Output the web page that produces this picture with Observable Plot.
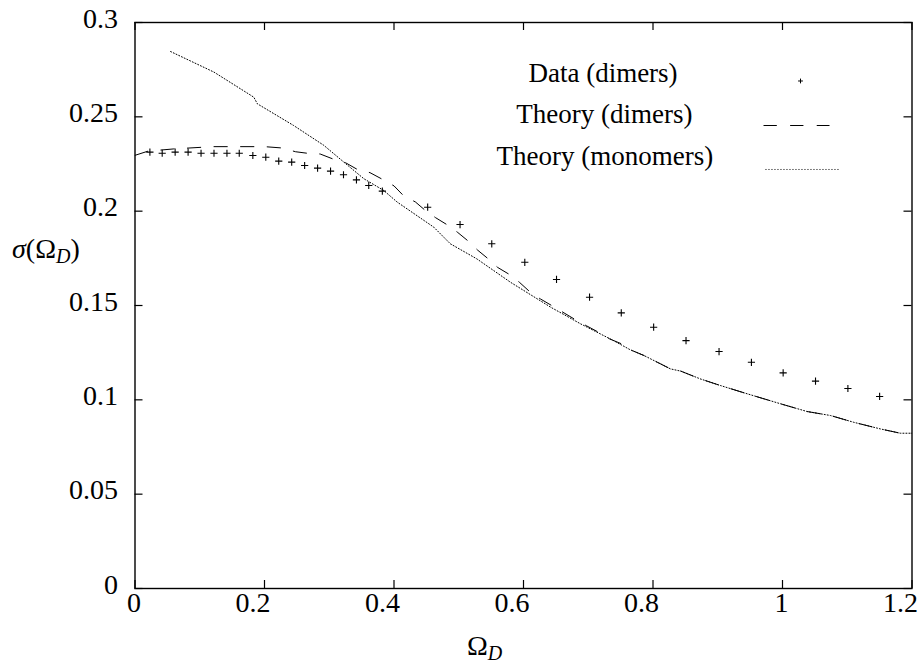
<!DOCTYPE html>
<html><head><meta charset="utf-8">
<script src="https://cdn.jsdelivr.net/npm/d3@7"></script>
<script src="https://cdn.jsdelivr.net/npm/@observablehq/plot@0.6"></script>
<style>
body{margin:0;background:#fff}
#chart{width:921px;height:666px}
</style>
</head><body><div id="chart"></div>
<script>
// Data (dimers) – measured points
const dataX = [0.023, 0.042, 0.062, 0.082, 0.102, 0.122, 0.142, 0.161, 0.182, 0.202, 0.222, 0.242, 0.262, 0.282, 0.302, 0.322, 0.342, 0.361, 0.382,
  0.452, 0.502, 0.551, 0.602, 0.651, 0.702, 0.751, 0.801, 0.851, 0.902, 0.952, 1.001, 1.051, 1.101, 1.150];
const dataY = [0.2313, 0.2307, 0.2313, 0.2313, 0.2307, 0.2307, 0.2307, 0.2307, 0.2295, 0.2286, 0.2265, 0.2260, 0.2242, 0.2228, 0.2212, 0.2193, 0.2166, 0.2136, 0.2106,
  0.2021, 0.1929, 0.1827, 0.1729, 0.1638, 0.1544, 0.1461, 0.1385, 0.1314, 0.1256, 0.1199, 0.1143, 0.1099, 0.1060, 0.1018];

// Theory (dimers)
const dimerX = [0, 0.02, 0.06, 0.12, 0.2, 0.227, 0.248, 0.266, 0.286, 0.307, 0.325, 0.343, 0.363, 0.382, 0.40, 0.415, 0.433, 0.449, 0.464, 0.482, 0.4985, 0.5155, 0.529, 0.546, 0.56, 0.579, 0.594, 0.611, 0.626, 0.644, 0.661, 0.68, 0.697, 0.716, 0.733, 0.752, 0.768, 0.786, 0.827, 0.843, 0.873, 0.904, 0.9455, 0.997, 1.038, 1.074, 1.11, 1.151, 1.182, 1.2];
const dimerY = [0.2296, 0.2318, 0.2330, 0.2342, 0.2342, 0.2335, 0.2315, 0.2307, 0.2303, 0.2275, 0.2257, 0.2222, 0.2204, 0.2169, 0.2134, 0.2081, 0.2049, 0.2002, 0.1966, 0.1928, 0.1887, 0.1839, 0.1794, 0.1746, 0.1702, 0.1663, 0.1622, 0.1569, 0.1535, 0.1499, 0.1464, 0.1425, 0.1393, 0.1358, 0.1323, 0.1296, 0.1261, 0.1235, 0.1164, 0.1152, 0.1111, 0.1076, 0.1032, 0.0979, 0.0938, 0.0917, 0.0881, 0.0846, 0.0823, 0.0823];

// Theory (monomers)
const monoX = [0.055, 0.122, 0.1835, 0.189, 0.245, 0.2916, 0.3225, 0.3534, 0.384, 0.405, 0.4615, 0.487, 0.528, 0.58, 0.642, 0.688, 0.739, 0.765, 0.786, 0.827, 0.843, 0.873, 0.904, 0.9455, 0.997, 1.038, 1.074, 1.11, 1.151, 1.182, 1.2];
const monoY = [0.2846, 0.2737, 0.2604, 0.2569, 0.2454, 0.2349, 0.2260, 0.2172, 0.2110, 0.2048, 0.1915, 0.1827, 0.1747, 0.1623, 0.1491, 0.1403, 0.1314, 0.1265, 0.1235, 0.1164, 0.1152, 0.1111, 0.1076, 0.1032, 0.0979, 0.0938, 0.0917, 0.0881, 0.0846, 0.0823, 0.0823];

// Ticks
const xTicks = [0, 0.2, 0.4, 0.6, 0.8, 1, 1.2];
const xTickLabels = ["0", "0.2", "0.4", "0.6", "0.8", "1", "1.2"];
const yTicks = [0, 0.05, 0.1, 0.15, 0.2, 0.25, 0.3];
const yTickLabels = ["0", "0.05", "0.1", "0.15", "0.2", "0.25", "0.3"];

// Legend (positions in data units inside the frame)
const legendLabels = ["Data (dimers)", "Theory (dimers)", "Theory (monomers)"];
const legendTextX = [0.838, 0.861, 0.893];
const legendTextY = [0.2687, 0.2465, 0.2247];
const legendSampleX1 = [0.9707, 0.9737];
const legendSampleX2 = [1.0726, 1.087];
const legendSampleY = [0.2454, 0.2221];
const legendPlusX = [1.0278], legendPlusY = [0.2690];

const W = 921, H = 666, ML = 134.5, MR = 9.5, MT = 22, MB = 78;
const PW = W - ML - MR, PH = H - MT - MB, TL = 8;
const FONT = "Liberation Serif";

const plusSymbol = {
  draw(context, size) {
    const r = Math.sqrt(size / Math.PI);
    context.moveTo(-r, 0); context.lineTo(r, 0);
    context.moveTo(0, -r); context.lineTo(0, r);
  }
};

const idx = a => a.map((_, i) => i);

const chart = Plot.plot({
  width: W, height: H,
  marginLeft: ML, marginRight: MR, marginTop: MT, marginBottom: MB,
  x: {domain: [0, 1.2], axis: null},
  y: {domain: [0, 0.3], axis: null},
  style: {fontFamily: FONT, fontSize: "28px", color: "black", background: "white"},
  marks: [
    // inward ticks on all four sides
    Plot.tickX(xTicks, {x: d => d, insetTop: PH - TL, stroke: "black", strokeWidth: 1.2}),
    Plot.tickX(xTicks, {x: d => d, insetBottom: PH - TL, stroke: "black", strokeWidth: 1.2}),
    Plot.tickY(yTicks, {y: d => d, insetRight: PW - TL, stroke: "black", strokeWidth: 1.2}),
    Plot.tickY(yTicks, {y: d => d, insetLeft: PW - TL, stroke: "black", strokeWidth: 1.2}),
    // tick labels
    Plot.text(idx(xTicks), {x: i => xTicks[i], text: i => xTickLabels[i], frameAnchor: "bottom", lineAnchor: "bottom", textAnchor: "end", dx: 6, dy: 23, fill: "black", fontSize: 28, fontFamily: FONT}),
    Plot.text(idx(yTicks), {y: i => yTicks[i], text: i => yTickLabels[i], frameAnchor: "left", lineAnchor: "bottom", textAnchor: "end", dx: -17, dy: 5, fill: "black", fontSize: 28, fontFamily: FONT}),
    // series
    Plot.line(idx(monoX), {x: i => monoX[i], y: i => monoY[i], stroke: "black", strokeWidth: 1, strokeDasharray: "1,2", clip: true}),
    Plot.line(idx(dimerX), {x: i => dimerX[i], y: i => dimerY[i], stroke: "black", strokeWidth: 1, strokeDasharray: "13.3,13.3", clip: true}),
    Plot.dot(idx(dataX), {x: i => dataX[i], y: i => dataY[i], symbol: plusSymbol, r: 3.6, stroke: "black", fill: "none", strokeWidth: 1.1}),
    // legend
    Plot.text(idx(legendLabels), {x: i => legendTextX[i], y: i => legendTextY[i], text: i => legendLabels[i], textAnchor: "end", lineAnchor: "bottom", fill: "black", fontSize: 27, fontFamily: FONT}),
    Plot.dot(idx(legendPlusX), {x: i => legendPlusX[i], y: i => legendPlusY[i], symbol: plusSymbol, r: 2.4, stroke: "black", fill: "none", strokeWidth: 1}),
    Plot.link([0], {x1: () => legendSampleX1[0], x2: () => legendSampleX2[0], y1: () => legendSampleY[0], y2: () => legendSampleY[0], stroke: "black", strokeWidth: 1, strokeDasharray: "13.3,13.3"}),
    Plot.link([1], {x1: () => legendSampleX1[1], x2: () => legendSampleX2[1], y1: () => legendSampleY[1], y2: () => legendSampleY[1], stroke: "black", strokeWidth: 1, strokeDasharray: "1,2"}),
    Plot.frame({stroke: "black", strokeWidth: 1.4})
  ]
});
document.getElementById("chart").appendChild(chart);

// axis titles with italic / subscript formatting
const svg = d3.select(chart);
const ylab = svg.append("text").attr("x", 12).attr("y", 258)
  .attr("text-anchor", "start").attr("font-family", FONT).attr("font-size", 28).attr("fill", "black");
ylab.append("tspan").attr("font-style", "italic").text("σ");
ylab.append("tspan").text("(Ω");
ylab.append("tspan").attr("font-style", "italic").attr("font-size", 20).attr("dy", 5).text("D");
ylab.append("tspan").attr("dy", -5).text(")");

const xlab = svg.append("text").attr("x", 467).attr("y", 655)
  .attr("text-anchor", "start").attr("font-family", FONT).attr("font-size", 28).attr("fill", "black");
xlab.append("tspan").text("Ω");
xlab.append("tspan").attr("font-style", "italic").attr("font-size", 20).attr("dy", 5).text("D");
</script>
</body></html>
